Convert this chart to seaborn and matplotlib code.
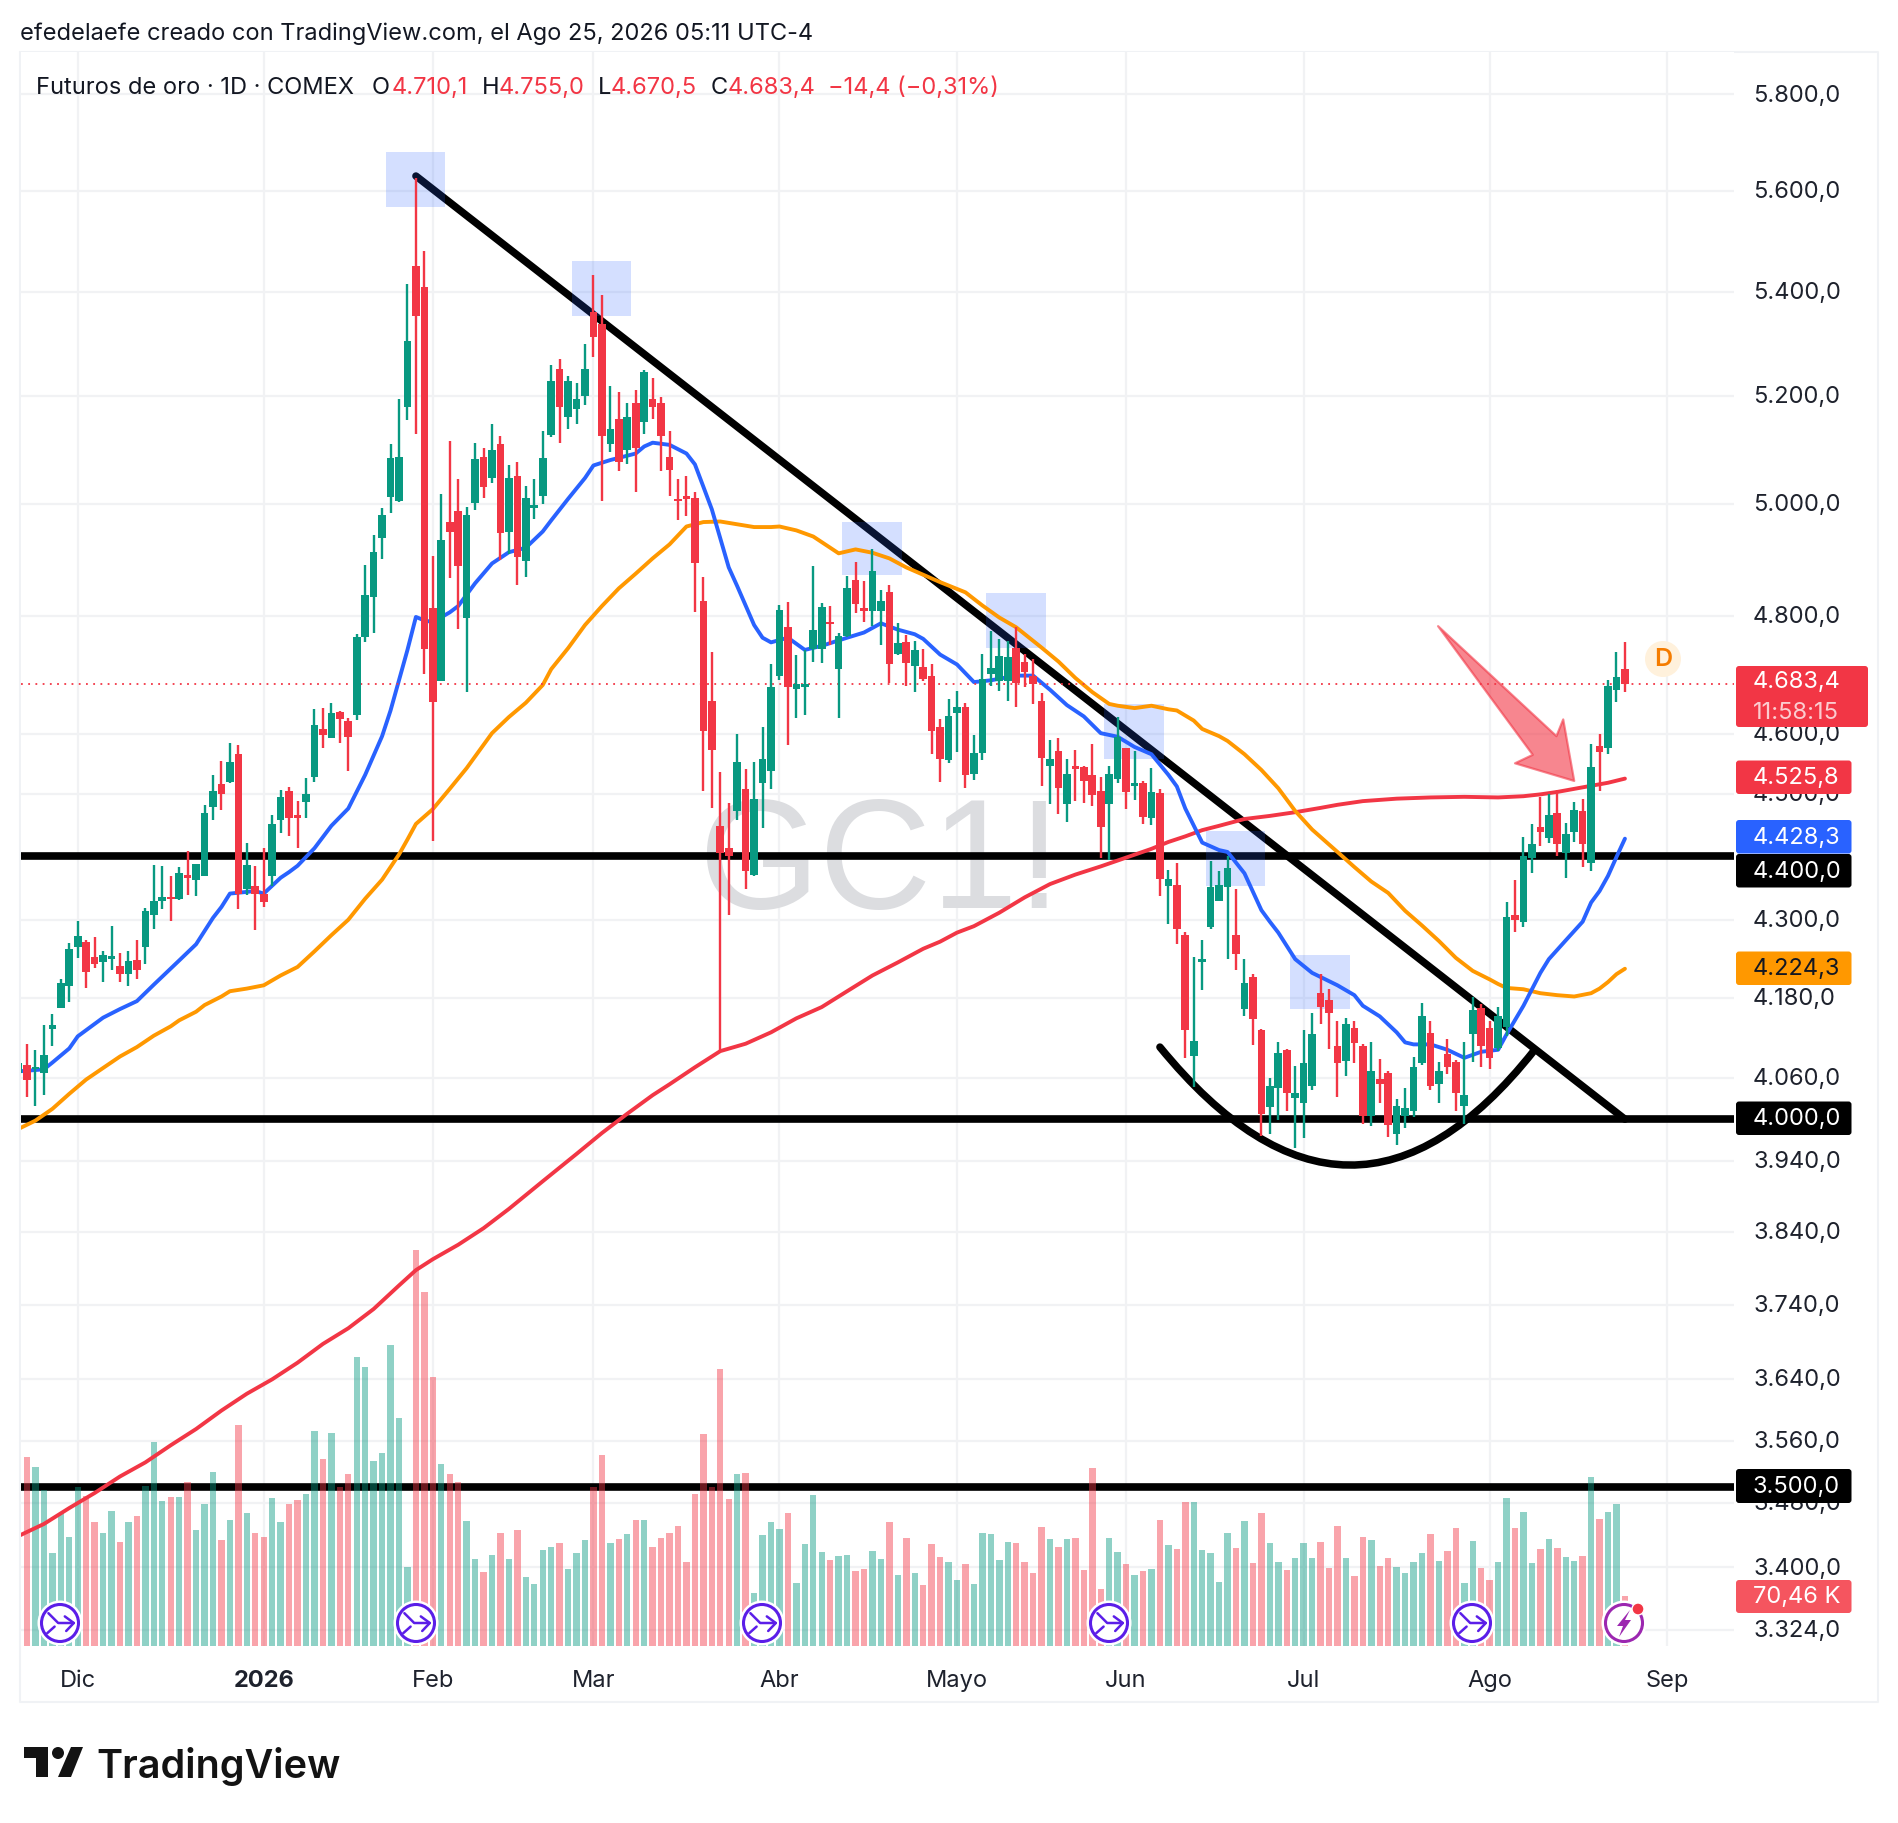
import numpy as np
import pandas as pd
import seaborn as sns
import matplotlib
matplotlib.use("Agg")
import matplotlib.pyplot as plt
from matplotlib.patches import Rectangle, Circle, Polygon, FancyBboxPatch, PathPatch
from matplotlib.path import Path
from matplotlib.lines import Line2D
from matplotlib.transforms import Affine2D, ScaledTranslation

# ---------------- data ----------------
high = [4104,
 4110,4101,4139,4156,4209,4264,4298,4268,4273,4252,
 4290,4249,4252,4268,4318,4387,4384,4368,4383,4409,
 4388,4482,4532,4555,4584,4581,4421,4384,4414,4466,
 4507,4512,4489,4526,4641,4644,4652,4638,4626,4770,
 4891,4944,4992,5109,5193,5414,5626,5479,4906,5018,
 5115,5046,4995,5112,5102,5146,5124,5070,5076,5033,
 5045,5133,5259,5270,5238,5223,5298,5433,5394,5219,
 5206,5187,5211,5248,5233,5198,5133,5046,5050,5021,
 4869,4738,4536,4486,4600,4541,4553,4611,4717,4820,
 4825,4733,4742,4888,4824,4818,4772,4871,4896,4862,
 4918,4847,4855,4789,4767,4757,4744,4717,4624,4658,
 4672,4652,4598,4735,4775,4761,4758,4782,4735,4726,
 4669,4590,4593,4558,4573,4547,4583,4528,4547,4628,
 4577,4572,4522,4543,4508,4378,4389,4281,4243,4269,
 4392,4376,4401,4349,4239,4217,4133,4060,4113,4103,
 4078,4132,4157,4217,4193,4145,4150,4145,4110,4113,
 4089,4070,4029,4046,4091,4172,4145,4084,4118,4087,
 4114,4181,4171,4145,4166,4327,4363,4431,4452,4495,
 4501,4507,4454,4487,4493,4583,4599,4690,4738,4755]
body_top = [4083,
 4080,4077,4094,4139,4202,4255,4274,4266,4242,4245,
 4244,4228,4236,4238,4314,4329,4335,4335,4373,4371,
 4388,4469,4505,4517,4553,4567,4386,4353,4341,4452,
 4495,4505,4467,4500,4614,4608,4634,4636,4621,4765,
 4837,4913,4979,5083,5085,5304,5450,5409,4815,4935,
 4967,4987,4979,5082,5085,5099,5109,5047,5051,5011,
 4997,5083,5227,5250,5227,5194,5250,5360,5337,5137,
 5157,5159,5187,5244,5194,5187,5085,5009,5014,5011,
 4827,4655,4449,4413,4553,4508,4492,4558,4679,4811,
 4782,4683,4684,4777,4817,4790,4766,4849,4863,4814,
 4879,4827,4842,4754,4756,4742,4712,4697,4611,4629,
 4645,4645,4568,4693,4711,4732,4730,4745,4722,4698,
 4655,4558,4572,4534,4547,4545,4531,4506,4533,4595,
 4577,4519,4519,4504,4503,4364,4355,4277,4115,4240,
 4351,4355,4381,4276,4203,4212,4131,4048,4097,4102,
 4038,4082,4125,4188,4177,4107,4140,4135,4107,4070,
 4059,4068,4019,4016,4076,4152,4127,4070,4096,4084,
 4036,4161,4165,4135,4152,4305,4307,4400,4419,4447,
 4467,4469,4436,4474,4473,4545,4580,4680,4696,4710.1]
body_bottom = [4068,
 4058,4073,4068,4133,4165,4198,4257,4219,4231,4234,
 4239,4216,4217,4223,4258,4307,4330,4332,4332,4366,
 4362,4368,4480,4501,4521,4340,4348,4340,4328,4368,
 4458,4461,4461,4487,4528,4598,4593,4624,4594,4632,
 4765,4834,4938,5013,5005,5178,5352,4744,4653,4689,
 4950,4888,4797,5001,5030,5047,4947,4950,4904,4897,
 4993,5014,5127,5178,5159,5175,5200,5312,5124,5109,
 5077,5099,5103,5151,5179,5125,5062,5005,5009,4894,
 4605,4573,4405,4400,4473,4376,4370,4518,4538,4697,
 4679,4675,4678,4744,4744,4787,4709,4766,4821,4809,
 4809,4809,4718,4735,4720,4715,4692,4605,4558,4557,
 4635,4532,4533,4568,4700,4689,4689,4685,4705,4683,
 4560,4546,4510,4485,4542,4522,4499,4447,4485,4525,
 4504,4513,4464,4461,4364,4353,4286,4132,4093,4234,
 4289,4330,4351,4247,4163,4148,4008,4018,4045,4038,
 4031,4024,4048,4166,4157,4082,4086,4112,4004,4004,
 4051,3992,3979,4004,4012,4083,4048,4052,4076,4038,
 4019,4126,4107,4090,4105,4136,4299,4297,4398,4439,
 4429,4419,4406,4439,4419,4389,4570,4577,4673,4683.4]
low = [4056,
 4033,4019,4036,4108,4164,4174,4241,4195,4225,4204,
 4223,4204,4198,4208,4232,4285,4317,4298,4331,4338,
 4337,4368,4458,4474,4519,4317,4338,4284,4320,4353,
 4438,4432,4414,4461,4521,4576,4593,4584,4539,4623,
 4756,4772,4901,4983,5003,5155,5128,4701,4424,4689,
 4867,4778,4670,4989,5011,5037,4899,4910,4855,4869,
 4973,5000,5122,5111,5137,5146,5183,5274,5005,5094,
 5060,5072,5021,5129,5157,5059,5014,4970,4978,4808,
 4505,4478,4099,4307,4459,4348,4368,4445,4509,4691,
 4581,4626,4631,4721,4719,4751,4626,4765,4806,4790,
 4784,4751,4685,4734,4680,4671,4688,4567,4521,4551,
 4569,4510,4523,4557,4681,4672,4655,4645,4678,4650,
 4513,4484,4468,4455,4489,4486,4481,4398,4394,4519,
 4476,4491,4452,4450,4337,4294,4263,4090,4047,4192,
 4285,4330,4239,4222,4153,4109,3976,3978,3999,4012,
 3958,3973,4042,4141,4103,4033,4063,4082,3993,3990,
 4023,3974,3963,3987,4003,4080,4042,4024,4066,4012,
 3993,4084,4076,4074,4100,4122,4281,4288,4373,4416,
 4421,4401,4365,4423,4383,4377,4506,4567,4653,4670.5]
direction = ("g"
 "rggggggrrg" "grgrgggrgr" "gggrgrgrrg" "grrggrgrrg" "ggggggrrrg"
 "rrggrgrgrg" "gggrgggrrg" "rgrgrrrrrr" "rrrrgrgggg" "rggggrggrr"
 "ggrgrgrrrg" "grgggggrrr" "rgrgrrrrgg" "rgrgrgrrgg" "gggrgrrggr"
 "gggrrrgrrg" "rrggggrgrr" "ggrrggrggr" "grggrgrggr")
volume = [267,253,220,131,187,153,224,211,175,159,
 191,147,175,183,225,287,204,210,210,231,
 163,200,245,149,178,311,187,160,153,208,
 175,200,206,215,303,263,301,224,242,407,
 394,261,272,425,321,111,559,499,379,256,
 242,231,176,122,104,128,159,122,164,97,
 87,135,139,145,109,131,149,224,269,145,
 151,158,178,177,139,152,159,169,118,214,
 299,224,390,207,243,244,75,157,175,165,
 188,89,144,213,133,121,127,128,106,109,
 134,123,175,100,152,103,86,144,125,118,
 93,116,87,159,158,121,147,145,118,103,
 168,151,140,151,152,107,251,80,152,133,
 116,100,106,109,178,142,137,203,203,135,
 131,90,159,138,176,117,188,145,118,107,
 124,145,124,147,110,169,124,99,154,149,
 113,124,111,103,118,131,158,120,134,166,
 89,148,110,93,118,209,166,189,117,137,
 151,138,125,120,127,238,179,189,200,70.46]

blue_x = [-1,2,3,5,6,9,11,13,15,18,20,22,23,24,27,28,30,31,32,34,36,38,40,42,43,45,46,47,48,50,51,53,55,57,59,61,62,64,66,67,69,72,73,74,76,78,79,80,81,83,84,86,87,88,90,92,94,97,99,101,103,105,106,108,110,112,114,117,119,121,123,125,127,129,131,133,135,136,137,139,141,142,144,146,147,148,150,152,155,157,158,160,162,163,164,166,168,170,172,174,175,177,179,180,182,184,185,186,187,188,189]
blue_y = [4070,4073,4083,4104,4122,4150,4163,4175,4200,4237,4262,4303,4320,4341,4345,4341,4366,4375,4385,4413,4449,4477,4532,4596,4639,4742,4799,4793,4790,4807,4818,4858,4893,4913,4921,4950,4970,5009,5047,5070,5080,5092,5105,5112,5108,5092,5072,5031,4990,4886,4853,4785,4763,4755,4763,4742,4749,4763,4772,4788,4777,4769,4761,4734,4717,4687,4690,4698,4698,4674,4648,4629,4601,4595,4578,4566,4532,4513,4477,4422,4410,4407,4373,4315,4297,4280,4239,4218,4199,4184,4168,4152,4128,4113,4110,4110,4102,4090,4099,4102,4125,4168,4218,4239,4268,4297,4327,4345,4369,4399,4428.3]
orange_x = [-1,1,3,5,7,9,11,13,15,17,18,20,21,23,24,26,28,30,32,34,36,38,40,42,44,45,46,48,50,52,55,57,59,61,62,64,66,68,70,72,74,76,78,80,82,84,86,88,89,91,93,95,96,98,100,102,104,106,108,111,113,115,117,120,122,124,126,128,129,131,133,135,136,138,139,141,142,144,146,148,150,152,155,157,159,161,163,165,167,169,171,173,174,175,177,179,181,183,185,186,187,188,189]
orange_y = [3986,3998,4015,4037,4058,4075,4092,4106,4123,4137,4146,4159,4169,4182,4190,4194,4199,4214,4227,4251,4276,4300,4333,4363,4403,4427,4452,4476,4509,4543,4601,4628,4652,4682,4709,4745,4785,4818,4849,4875,4902,4927,4959,4967,4968,4963,4958,4958,4959,4952,4941,4921,4911,4918,4912,4902,4886,4873,4860,4842,4819,4798,4781,4746,4722,4694,4670,4650,4647,4643,4647,4641,4639,4622,4608,4596,4588,4566,4540,4510,4473,4443,4407,4383,4360,4342,4314,4291,4267,4241,4221,4208,4201,4195,4193,4187,4184,4182,4187,4194,4204,4216,4224.3]
red_x = [-1,2,5,8,11,14,17,20,23,26,29,32,35,38,41,44,46,48,51,54,57,61,65,68,71,74,76,79,82,85,88,91,94,97,100,103,106,108,110,112,115,118,121,124,127,130,133,135,137,139,141,144,147,150,153,155,158,162,166,170,174,177,179,181,183,185,187,189]
red_y = [3439,3454,3474,3493,3514,3532,3554,3575,3599,3621,3640,3662,3687,3708,3734,3766,3787,3802,3822,3845,3872,3911,3950,3980,4008,4035,4051,4076,4100,4111,4128,4149,4166,4190,4214,4234,4255,4266,4280,4290,4311,4335,4356,4371,4384,4398,4412,4423,4432,4442,4449,4460,4465,4471,4478,4483,4489,4493,4495,4496,4495,4497,4500,4504,4509,4514,4519,4525.8]

trend_x = [46, 189]
trend_y = [5631, 4000]
arc_x = [134, 156.6, 178.2]      # start, control, end of the hand-drawn arc
arc_y = [4106, 3772, 4100]
levels = [4400, 4000, 3500]
zones = [(42.5,49.4,5568,5680),(64.5,71.4,5352,5460),(96.4,103.5,4872,4968),(113.4,120.5,4745,4840),
         (127.4,134.5,4558,4650),(139.5,146.4,4353,4440),(149.4,156.5,4163,4245)]
arrow_x = [166.9,180.9,181.7,183.0,176.0,178.1]
arrow_y = [4783,4596,4624,4522,4551,4565]

price_ticks = [5800,5600,5400,5200,5000,4800,4600,4500,4300,4180,4060,3940,3840,3740,3640,3560,3480,3400,3324]
price_labels = ["5.800,0","5.600,0","5.400,0","5.200,0","5.000,0","4.800,0","4.600,0","4.500,0","4.300,0","4.180,0","4.060,0","3.940,0","3.840,0","3.740,0","3.640,0","3.560,0","3.480,0","3.400,0","3.324,0"]
month_ticks = [6,28,48,67,89,110,130,151,173,194]
month_labels = ["Dic","2026","Feb","Mar","Abr","Mayo","Jun","Jul","Ago","Sep"]
last_price = 4683.4

GREEN, RED, BLUE, ORANGE = "#089981", "#f23645", "#2962ff", "#ff9800"
W, H = 1898, 1824

sns.set_theme(style="white")
plt.rcParams["font.family"] = ["Inter", "DejaVu Sans"]
fig = plt.figure(figsize=(W/100, H/100), dpi=100, facecolor="white")
px = Affine2D().scale(1, -1).translate(0, H)
rect = [20.5/W, 1-1647/H, (1734-20.5)/W, (1647-53)/H]

ax_back = fig.add_axes(rect, zorder=1)
ax_vol = fig.add_axes(rect, zorder=2)
ax = fig.add_axes(rect, zorder=3)

# back layer
for p in price_ticks:
    ax_back.axhline(p, color="#f1f2f4", lw=1.6, zorder=1)
for m in month_ticks:
    ax_back.axvline(m, color="#f1f2f4", lw=1.6, zorder=1)
ax_back.text(0.5011, 0.4888, "GC1!", transform=ax_back.transAxes, ha="center", va="center",
             fontsize=112, color="#dcdde0", family=["Liberation Sans"], zorder=1.5)
for lv in levels:
    ax_back.axhline(lv, color="black", lw=5.5, zorder=2, solid_capstyle="butt")
sns.lineplot(x=trend_x, y=trend_y, ax=ax_back, color="black", lw=5.4, sort=False, errorbar=None,
             solid_capstyle="round", zorder=2)
ax_back.add_patch(PathPatch(Path(np.c_[arc_x, arc_y], [Path.MOVETO, Path.CURVE3, Path.CURVE3]), fill=False,
                            edgecolor="black", lw=5.4, capstyle="round", zorder=2))
for x0, x1, p0, p1 in zones:
    ax_back.add_patch(Rectangle((x0, p0), x1-x0, p1-p0, facecolor=BLUE, alpha=0.2, lw=0, zorder=3))

# volume
vol_df = pd.DataFrame({"idx": np.arange(len(volume)), "vol": volume, "dir": list(direction[1:])})
sns.barplot(data=vol_df, x="idx", y="vol", hue="dir", palette={"g": GREEN, "r": RED}, native_scale=True,
            dodge=False, width=0.76, alpha=0.45, saturation=1, legend=False, linewidth=0, ax=ax_vol)

# moving averages
for xs, ys, col in [(red_x, red_y, RED), (orange_x, orange_y, ORANGE), (blue_x, blue_y, BLUE)]:
    sns.lineplot(x=xs, y=ys, ax=ax, color=col, lw=2.8, sort=False, errorbar=None, zorder=2,
                 solid_joinstyle="round")
ax.axhline(last_price, color=RED, lw=1.3, ls=(0, (1, 3)), zorder=2)

# candles
idx = np.arange(-1, 190)
cols = [GREEN if d == "g" else RED for d in direction]
ax.vlines(idx, low, high, colors=cols, lw=1.7, zorder=4)
ax.bar(idx, np.array(body_top)-np.array(body_bottom), bottom=body_bottom, width=0.9, color=cols, lw=0, zorder=4)

# arrow
ax.add_patch(Polygon(np.c_[arrow_x, arrow_y], closed=True, facecolor=RED, alpha=0.6, edgecolor=RED, lw=1.6,
                     joinstyle="round", zorder=5))

# axes setup
for a in (ax_back, ax):
    a.set_yscale("log")
    a.set_ylim(3304.5, 5890)
for a in (ax_back, ax_vol, ax):
    a.set_xlim(-0.769, 201.9)
    for s in a.spines.values():
        s.set_visible(False)
    a.set_xlabel("")
    a.set_ylabel("")
ax_vol.set_ylim(0, 1594*1.41)
ax_vol.set_xticks([]); ax_vol.set_yticks([])
ax_back.set_xticks([]); ax_back.set_yticks([]); ax_back.minorticks_off()
ax_vol.patch.set_visible(False)
ax.patch.set_visible(False)
ax.yaxis.tick_right()
ax.minorticks_off()
ax.set_yticks(price_ticks)
ax.set_yticklabels(price_labels, fontsize=17, color="#1e222d")
ax.tick_params(axis="y", which="both", length=0, pad=13.7)
lift = ScaledTranslation(0, 2.4/100, fig.dpi_scale_trans)
for t in ax.get_yticklabels():
    t.set_transform(t.get_transform() + lift)
ax.set_xticks(month_ticks)
ax.set_xticklabels(month_labels, fontsize=17, color="#1e222d")
ax.tick_params(axis="x", length=0, pad=16.5)
for t in ax.get_xticklabels():
    if t.get_text() == "2026":
        t.set_fontweight("bold")

# frame
def fline(xs, ys, **kw):
    fig.add_artist(Line2D(xs, ys, transform=px, **kw))
fc = "#f0f2f5"
fline([20, 1878, 1878, 20, 20], [53, 53, 1703, 1703, 53], color=fc, lw=1.5, zorder=0.5)

# header
fig.text(20, 34, "efedelaefe creado con TradingView.com, el Ago 25, 2026 05:11 UTC-4", transform=px,
         fontsize=17, color="#131722", va="center", zorder=11)
for x, s, c in [(36, "Futuros de oro · 1D · COMEX", "#131722"), (372, "O", "#131722"), (392, "4.710,1", RED),
                (482, "H", "#131722"), (499, "4.755,0", RED), (598, "L", "#131722"), (611, "4.670,5", RED),
                (711, "C", "#131722"), (728, "4.683,4", RED), (828, "−14,4 (−0,31%)", RED)]:
    fig.text(x, 88, s, transform=px, fontsize=17, color=c, va="center", zorder=11)

# badges
def badge(x0, y0, x1, y1, col, lines, tc="white"):
    fig.add_artist(FancyBboxPatch((x0+3, y0+3), x1-x0-6, y1-y0-6, boxstyle="round,pad=3,rounding_size=3",
                                  transform=px, facecolor=col, edgecolor="none", zorder=10))
    n = len(lines)
    for i, (s, a) in enumerate(lines):
        yc = y0 + (y1-y0)*(i+0.5)/n
        fig.text(1753, yc, s, transform=px, fontsize=17, color=tc, alpha=a, va="center", ha="left", zorder=11)

badge(1736, 667, 1868, 728, RED, [("4.683,4", 1), ("11:58:15", 0.75)])
badge(1736, 761.5, 1851.5, 795, RED, [("4.525,8", 1)])
badge(1736, 821, 1851.5, 854.5, BLUE, [("4.428,3", 1)])
badge(1736, 855, 1851.5, 888.5, "black", [("4.400,0", 1)])
badge(1736, 952.5, 1851.5, 986, ORANGE, [("4.224,3", 1)], tc="#131722")
badge(1736, 1102.5, 1851.5, 1136, "black", [("4.000,0", 1)])
badge(1736, 1470, 1851.5, 1504, "black", [("3.500,0", 1)])
badge(1736, 1581, 1851.5, 1614, "#f5555f", [("70,46 K", 1)])

# "D" marker
fig.add_artist(Circle((1663, 660), 18, transform=px, facecolor="#fff1dc", edgecolor="none", zorder=10))
fig.text(1663, 660, "D", transform=px, fontsize=18, color="#f57c00", fontweight="semibold", ha="center",
         va="center", zorder=11)

# event icons
PURPLE = "#5b1ee8"
for cx in [60, 416, 762, 1109, 1472]:
    fig.add_artist(Circle((cx, 1624), 22.5, transform=px, facecolor="white", edgecolor="none", zorder=10))
    fig.add_artist(Circle((cx, 1624), 18.5, transform=px, facecolor="white", edgecolor=PURPLE, lw=2.2, zorder=10))
    r = 20
    for pts in [[(-.58,-.49),(-.09,0),(.69,0)], [(.24,-.33),(.69,0),(.31,.4)], [(-.64,.51),(-.27,.18)]]:
        fline([cx+r*p[0] for p in pts], [1624+r*p[1] for p in pts], color=PURPLE, lw=1.8, zorder=10.5)
cx = 1624
fig.add_artist(Circle((cx, 1624), 22.5, transform=px, facecolor="white", edgecolor="none", zorder=10))
fig.add_artist(Circle((cx, 1624), 18.5, transform=px, facecolor="white", edgecolor="#9c27b0", lw=2.2, zorder=10))
fig.add_artist(Polygon([(cx+6,1611),(cx-7,1627),(cx-1,1627),(cx-5,1638),(cx+7,1621),(cx+1,1621)], closed=True,
                       transform=px, facecolor="#9c27b0", edgecolor="none", zorder=10.5))
fig.add_artist(Circle((1638, 1610), 6, transform=px, facecolor=RED, edgecolor="white", lw=1, zorder=10.6))

# logo
LOGO = "#131313"
fig.add_artist(Polygon([(24,1748),(48,1748),(48,1778),(36,1778),(36,1759),(24,1759)], closed=True, transform=px,
                       facecolor=LOGO, edgecolor="none", zorder=10))
fig.add_artist(Circle((58, 1754), 6, transform=px, facecolor=LOGO, edgecolor="none", zorder=10))
fig.add_artist(Polygon([(71,1748),(83,1748),(71,1778),(58,1778)], closed=True, transform=px,
                       facecolor=LOGO, edgecolor="none", zorder=10))
fig.text(96, 1778, "TradingView", transform=px, fontsize=28.5, fontweight="semibold", color=LOGO, va="baseline", zorder=11)

fig.savefig("out.png", dpi=100, facecolor="white")
